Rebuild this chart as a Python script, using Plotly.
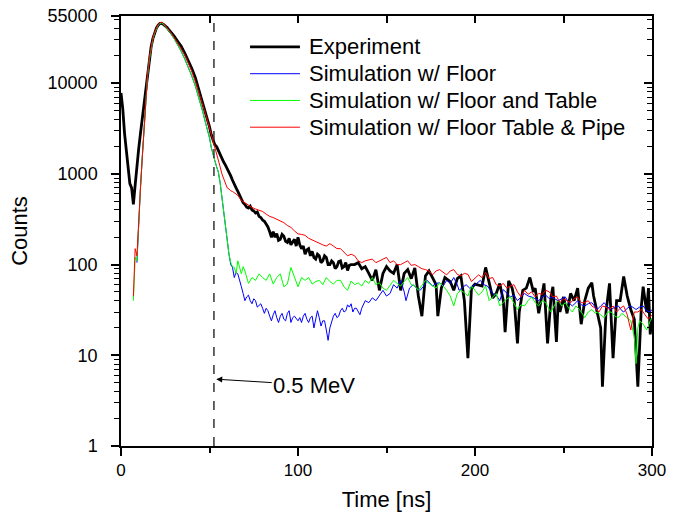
import math
import plotly.graph_objects as go

# ---------------- data (time in ns, counts) ----------------
exp_points = [
    (0, 7800), (1, 5200), (2, 2800), (3, 1800), (4, 1250), (5, 780), (6, 700), (7, 460),
    (8, 750), (9, 1300), (10, 1900), (11, 2800), (12, 4100), (13, 6000), (14, 9000),
    (15, 13000), (16, 19000), (17, 25000), (18, 31000), (19, 36500), (20, 40500),
    (21, 43500), (22, 45500), (23, 45500), (24, 44500), (26, 41000), (28, 37000),
    (30, 33000), (32, 29000), (34, 25500), (36, 21500), (38, 18000), (40, 14500),
    (42, 11500), (44, 8500), (46, 6300), (48, 4700), (50, 3300), (51, 2700), (52, 2300),
    (53, 2100), (54, 2000), (55, 1800), (56, 1700), (57, 1500), (58, 1350), (59, 1250),
    (60, 1150), (61, 1050), (62, 950), (63, 850), (64, 760), (65, 700), (66, 640),
    (67, 580), (68, 520), (69, 480), (70, 460), (71, 430), (72, 420), (73, 440),
    (74, 400), (75, 390), (76, 370), (77, 380), (78, 340), (79, 330), (80, 310),
    (81, 300), (82, 280), (83, 260), (84, 230), (85, 200), (86, 230), (87, 200),
    (88, 220), (89, 185), (90, 190), (91, 215), (92, 205), (93, 180), (94, 175),
    (95, 195), (96, 165), (97, 175), (98, 190), (99, 160), (100, 200), (101, 165),
    (102, 150), (103, 160), (104, 130), (105, 145), (106, 150), (107, 125), (108, 140),
    (109, 120), (110, 115), (111, 130), (112, 125), (113, 105), (114, 110), (115, 125),
    (116, 120), (117, 100), (118, 100), (119, 110), (120, 105), (121, 90), (122, 95),
    (123, 108), (124, 110), (125, 92), (126, 95), (127, 105), (128, 86), (129, 98),
    (130, 100), (132, 100), (134, 105), (136, 90), (138, 95), (140, 80), (142, 67),
    (144, 88), (146, 52), (148, 80), (150, 95), (152, 85), (154, 80), (156, 100),
    (158, 52), (160, 80), (162, 88), (164, 70), (166, 92), (168, 45), (170, 27),
    (172, 75), (174, 85), (176, 72), (178, 60), (179, 27), (181, 55), (183, 72),
    (186, 65), (188, 52), (190, 70), (192, 75), (194, 40), (196, 9.3), (198, 55),
    (200, 61), (202, 60), (204, 58), (206, 93), (208, 62), (210, 43), (212, 48),
    (214, 62), (216, 40), (217, 18), (219, 66), (221, 55), (222, 44), (224, 13.5),
    (225, 30), (227, 52), (229, 55), (231, 72), (233, 50), (234, 55), (236, 29),
    (238, 50), (239, 62), (241, 13.5), (243, 45), (244, 57), (246, 14), (247, 40),
    (248, 30), (250, 44), (251, 35), (252, 29), (254, 48), (256, 40), (258, 55),
    (260, 22), (262, 40), (264, 55), (266, 63), (267, 45), (269, 30), (271, 20),
    (272, 4.5), (274, 30), (276, 62), (278, 9.3), (280, 40), (282, 40), (284, 74),
    (286, 45), (288, 32), (290, 25), (292, 4.5), (294, 35), (295, 57), (297, 30),
    (298, 55), (299, 17), (300, 25),
]

floor_points = [
    (9, 105), (10, 330), (11, 700), (12, 1500), (13, 3000), (14, 6500), (15, 12000),
    (16, 18000), (17, 24500), (18, 30500), (19, 35500), (20, 40000), (21, 43500),
    (22, 45500), (23, 46000), (24, 44500), (26, 40000), (28, 35500), (30, 31000),
    (32, 26500), (34, 22500), (36, 18500), (38, 15000), (40, 12000), (42, 9300),
    (44, 7000), (46, 5000), (48, 3500), (50, 2500), (51, 1950), (52, 1700), (53, 1400),
    (54, 1200), (55, 1050), (56, 800), (57, 550), (58, 400), (59, 270), (60, 180),
    (61, 130), (62, 100), (63, 93), (64, 72), (65, 82), (66, 79), (67, 65), (68, 57),
    (69, 48), (70, 40), (71, 44), (72, 46), (73, 40), (74, 37), (75, 42), (76, 40),
    (77, 34), (78, 36), (79, 37), (80, 33), (81, 29), (82, 33), (83, 31), (84, 27),
    (85, 24), (86, 28), (87, 31), (88, 26), (89, 23), (90, 27), (91, 29), (92, 25),
    (93, 24), (94, 29), (95, 31), (96, 23), (97, 26), (98, 27), (99, 25), (100, 24),
    (101, 26), (102, 23), (103, 27), (104, 29), (105, 25), (106, 23), (107, 26),
    (108, 27), (109, 20), (110, 25), (111, 31), (112, 26), (113, 21), (114, 24),
    (115, 24), (116, 19), (117, 14.6), (118, 20), (119, 24), (120, 27), (121, 29),
    (122, 26), (123, 27), (124, 31), (125, 33), (126, 30), (127, 31), (128, 36),
    (129, 34), (130, 37), (131, 30), (132, 33), (133, 33), (134, 30), (135, 28),
    (136, 33), (137, 36), (138, 40), (140, 38), (142, 43), (144, 40), (146, 46),
    (148, 52), (150, 45), (152, 48), (154, 60), (156, 55), (158, 67), (160, 50),
    (161, 40), (163, 55), (165, 60), (167, 55), (169, 52), (171, 58), (173, 67),
    (175, 60), (176, 58), (178, 62), (180, 63), (182, 58), (184, 67), (186, 62),
    (188, 72), (190, 60), (191, 52), (193, 56), (195, 60), (197, 55), (199, 58),
    (201, 62), (203, 67), (205, 60), (207, 58), (209, 50), (210, 48), (212, 46),
    (214, 40), (216, 53), (218, 48), (220, 44), (222, 46), (224, 40), (226, 44),
    (228, 48), (230, 45), (232, 44), (234, 42), (236, 40), (238, 44), (240, 46),
    (242, 42), (243, 44), (245, 42), (247, 40), (249, 42), (251, 44), (253, 38),
    (255, 35), (257, 38), (258, 40), (260, 36), (262, 35), (264, 37), (266, 38),
    (268, 34), (269, 32), (271, 35), (273, 38), (275, 34), (277, 32), (279, 34),
    (281, 35), (283, 31), (284, 30), (286, 33), (288, 35), (290, 33), (291, 32),
    (293, 34), (295, 35), (297, 31), (299, 30), (300, 32),
]

table_points = [
    (7, 40), (8, 120), (9, 110), (10, 330), (11, 700), (12, 1500), (13, 3000),
    (14, 6500), (15, 12000), (16, 18000), (17, 24500), (18, 30500), (19, 35500),
    (20, 40000), (21, 43500), (22, 45500), (23, 46000), (24, 44500), (26, 40000),
    (28, 35500), (30, 31000), (32, 26500), (34, 22500), (36, 18500), (38, 15000),
    (40, 12000), (42, 9300), (44, 7000), (46, 5000), (48, 3500), (50, 2500),
    (51, 1950), (52, 1700), (53, 1400), (54, 1200), (55, 1050), (56, 800), (57, 550),
    (58, 400), (59, 270), (60, 180), (61, 130), (62, 105), (63, 95), (64, 93),
    (65, 80), (66, 110), (67, 90), (68, 79), (69, 95), (70, 85), (72, 62), (74, 72),
    (76, 67), (78, 79), (80, 72), (82, 67), (84, 79), (86, 61), (88, 72), (90, 79),
    (92, 57), (94, 61), (96, 93), (98, 72), (100, 57), (102, 72), (104, 67),
    (106, 72), (108, 61), (110, 65), (112, 67), (114, 60), (116, 72), (118, 65),
    (120, 61), (122, 67), (124, 67), (126, 57), (128, 52), (130, 66), (132, 60),
    (134, 63), (136, 58), (138, 67), (140, 62), (142, 72), (144, 60), (146, 63),
    (148, 55), (150, 52), (152, 60), (154, 67), (156, 62), (158, 58), (160, 65),
    (162, 72), (164, 60), (166, 58), (168, 52), (170, 60), (172, 67), (174, 62),
    (176, 58), (178, 55), (180, 63), (182, 58), (184, 52), (186, 45), (188, 35),
    (190, 48), (192, 52), (194, 49), (196, 45), (198, 58), (200, 52), (202, 46),
    (204, 50), (206, 58), (208, 40), (210, 44), (212, 48), (214, 35), (216, 38),
    (218, 42), (220, 44), (222, 38), (224, 32), (226, 36), (228, 35), (230, 40),
    (232, 44), (234, 38), (236, 35), (238, 40), (240, 38), (242, 32), (243, 30),
    (245, 36), (247, 40), (249, 35), (251, 38), (253, 33), (255, 30), (257, 35),
    (259, 32), (261, 28), (262, 26), (264, 30), (266, 32), (268, 29), (269, 30),
    (271, 28), (273, 26), (275, 30), (277, 30), (279, 27), (281, 26), (283, 29),
    (284, 28), (286, 26), (288, 24), (290, 16), (291, 8.1), (292, 20), (293, 24),
    (295, 22), (297, 19), (299, 24), (300, 26),
]

pipe_points = [
    (7, 45), (8, 150), (9, 125), (10, 330), (11, 700), (12, 1500), (13, 3000),
    (14, 6500), (15, 12500), (16, 19000), (17, 25500), (18, 31500), (19, 36500),
    (20, 41000), (21, 44500), (22, 46500), (23, 47000), (24, 45500), (26, 41000),
    (28, 36500), (30, 32000), (32, 28000), (34, 24000), (36, 20500), (38, 17000),
    (40, 13500), (42, 10500), (44, 8000), (46, 6000), (48, 4400), (50, 3200),
    (52, 2300), (54, 1700), (55, 1500), (56, 1200), (57, 1000), (58, 870), (59, 780),
    (60, 700), (61, 680), (62, 650), (63, 640), (64, 620), (66, 580), (68, 510),
    (70, 480), (72, 450), (74, 426), (76, 410), (78, 400), (80, 385), (82, 360),
    (84, 340), (86, 330), (88, 315), (90, 305), (92, 290), (94, 270), (96, 257),
    (98, 235), (100, 218), (102, 215), (104, 210), (106, 195), (108, 187), (110, 180),
    (112, 170), (114, 165), (116, 160), (118, 170), (120, 160), (122, 150), (124, 150),
    (126, 135), (128, 125), (130, 130), (132, 125), (134, 110), (136, 105), (138, 110),
    (140, 112), (142, 115), (144, 105), (146, 110), (148, 115), (150, 120), (152, 105),
    (154, 110), (156, 100), (158, 100), (160, 105), (162, 110), (164, 98), (166, 100),
    (168, 95), (170, 90), (172, 88), (174, 85), (176, 77), (178, 85), (180, 88),
    (182, 82), (184, 77), (186, 85), (188, 88), (190, 78), (192, 75), (194, 80),
    (196, 78), (198, 65), (200, 70), (202, 77), (204, 72), (206, 82), (208, 70),
    (210, 72), (212, 60), (214, 58), (216, 62), (218, 55), (220, 58), (222, 60),
    (224, 50), (226, 44), (228, 52), (230, 47), (232, 50), (234, 44), (236, 48),
    (238, 47), (240, 52), (242, 50), (244, 44), (246, 45), (248, 38), (250, 42),
    (252, 40), (254, 38), (256, 42), (258, 44), (260, 38), (262, 38), (264, 40),
    (266, 35), (268, 33), (270, 30), (272, 35), (274, 34), (276, 32), (278, 35),
    (280, 30), (282, 33), (284, 35), (286, 28), (288, 19), (290, 30), (292, 30),
    (294, 32), (296, 28), (298, 25), (300, 28),
]

series_names = ["Experiment", "Simulation w/ Floor", "Simulation w/ Floor and Table",
                "Simulation w/ Floor Table & Pipe"]
series_colors = ["#000000", "#0000FF", "#00FF00", "#FF0000"]
series_widths = [2.8, 1, 1, 1]

x_tick_vals = [0, 100, 200, 300]
x_minor_vals = [50, 150, 250]
y_tick_vals = [1, 10, 100, 1000, 10000, 55000]
y_tick_text = ["1", "10", "100", "1000", "10000", "55000"]
marker_time = 52.5
marker_label = "0.5 MeV"

FONT = "Arial, 'Liberation Sans', sans-serif"

y_minor_vals = [m * 10 ** d for d in range(0, 4) for m in range(2, 10)] + [20000, 30000, 40000, 50000]
yr = [0, math.log10(55000)]

fig = go.Figure()
all_points = [exp_points, floor_points, table_points, pipe_points]
for i in range(4):
    pts = all_points[i]
    fig.add_trace(go.Scatter(
        x=[p[0] for p in pts], y=[p[1] for p in pts], mode="lines", name=series_names[i],
        line=dict(color=series_colors[i], width=series_widths[i]), showlegend=False,
    ))

# dummy trace for the mirrored top/right axes
fig.add_trace(go.Scatter(x=[150], y=[10], xaxis="x2", yaxis="y2", mode="markers",
                         marker=dict(opacity=0), showlegend=False, hoverinfo="skip"))

axis_common = dict(showline=True, linecolor="black", linewidth=1.5, showgrid=False,
                   zeroline=False, tickcolor="black", tickwidth=1.5, automargin=False)

fig.update_layout(
    width=685, height=516,
    margin=dict(l=121, r=33, t=16, b=70),
    paper_bgcolor="white", plot_bgcolor="white",
    font=dict(family=FONT, color="black", size=17),
    showlegend=False,
    xaxis=dict(range=[0, 300], tickvals=x_tick_vals, ticks="outside", ticklen=8,
               minor=dict(tickvals=x_minor_vals, ticks="outside", ticklen=5, tickcolor="black", tickwidth=1.5),
               title=dict(text="Time [ns]", font=dict(size=22), standoff=12),
               tickfont=dict(size=17), **axis_common),
    yaxis=dict(type="log", range=yr, tickvals=y_tick_vals, ticktext=y_tick_text,
               ticks="outside", ticklen=8, ticklabelstandoff=10,
               minor=dict(tickvals=y_minor_vals, ticks="outside", ticklen=5, tickcolor="black", tickwidth=1.2),
               title=dict(text="Counts", font=dict(size=22), standoff=14),
               tickfont=dict(size=18), **axis_common),
    xaxis2=dict(range=[0, 300], overlaying="x", side="top", anchor="y2",
                tickvals=[0, 50, 100, 150, 200, 250, 300], ticks="inside", ticklen=7,
                showticklabels=False, **axis_common),
    yaxis2=dict(type="log", range=yr, overlaying="y", side="right", anchor="x2",
                tickvals=y_tick_vals, ticks="inside", ticklen=8, showticklabels=False,
                minor=dict(tickvals=y_minor_vals, ticks="inside", ticklen=5, tickcolor="black", tickwidth=1.2),
                **axis_common),
)

# manual legend (compact row spacing like the original)
leg_x0, leg_x1, leg_text_x = 0.243, 0.337, 0.350
leg_top, leg_step = 0.928, 0.0622
for i in range(4):
    yy = leg_top - i * leg_step
    fig.add_shape(type="line", xref="paper", yref="paper", x0=leg_x0, x1=leg_x1, y0=yy, y1=yy,
                  line=dict(color=series_colors[i], width=series_widths[i]))
    fig.add_annotation(x=leg_text_x, y=yy, xref="paper", yref="paper", text=series_names[i],
                       showarrow=False, xanchor="left", yanchor="middle",
                       font=dict(size=22, color="black"))

fig.add_shape(type="line", xref="x", yref="paper", x0=marker_time, x1=marker_time, y0=0, y1=1,
              line=dict(color="#333333", width=1.5, dash="dash"))

fig.add_annotation(x=marker_time + 1.3, y=math.log10(5.45), xref="x", yref="y",
                   text=marker_label, showarrow=True, arrowhead=2, arrowsize=1.2, arrowwidth=1,
                   arrowcolor="black", ax=98, ay=6, font=dict(size=22, color="black"))

fig.write_html("out.html")
